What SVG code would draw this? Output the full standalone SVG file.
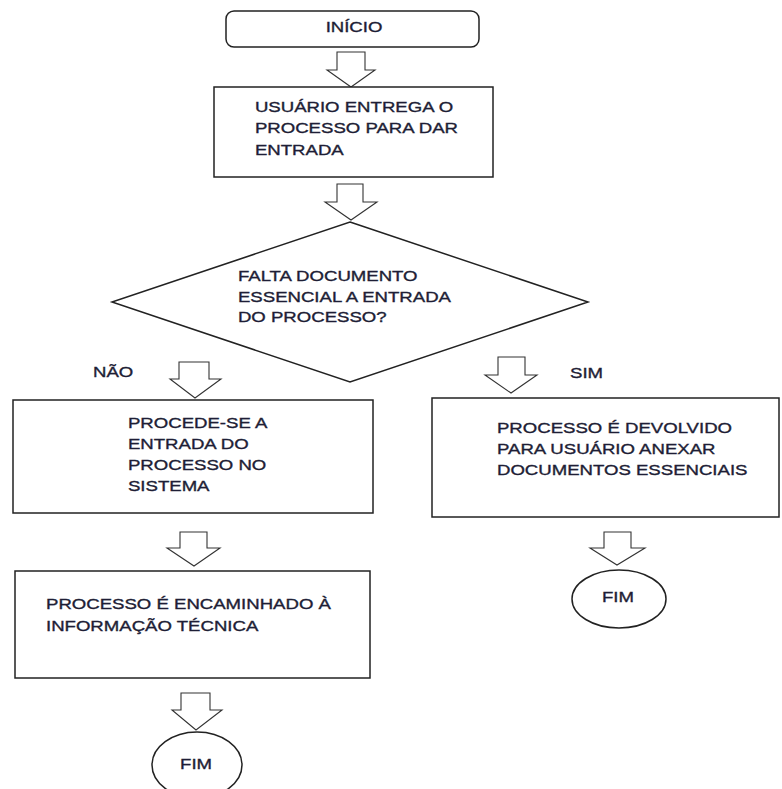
<svg xmlns="http://www.w3.org/2000/svg" width="782" height="789" viewBox="0 0 782 789">
<style>
.shape{fill:#ffffff;stroke:#222222;stroke-width:1.5}
.arrow{fill:#ffffff;stroke:#333333;stroke-width:1.1;stroke-linejoin:miter}
.t{font-family:"Liberation Sans",Arial,sans-serif;font-size:15px;fill:#1e1e36;stroke:#1e1e36;stroke-width:0.35}
.c{text-anchor:middle}
</style>
<rect x="0" y="0" width="782" height="789" fill="#ffffff"/>
<g id="connectors">
<polygon class="arrow" points="337,52 365,52 365,70 375,70 351,87 327,70 337,70"/>
<polygon class="arrow" points="337,184 363,184 363,202 377,202 351,220 325,202 337,202"/>
<polygon class="arrow" points="179,362 209,362 209,379 221,379 195,398 170,379 179,379"/>
<polygon class="arrow" points="498,357 525,357 525,375 537,375 511,393 485,375 498,375"/>
<polygon class="arrow" points="180,532 207,532 207,548 220,548 194,566 167,548 180,548"/>
<polygon class="arrow" points="181,693 210,693 210,710 222,710 196,730 172,710 181,710"/>
<polygon class="arrow" points="604,532 631,532 631,548 645,548 617,565 590,548 604,548"/>
<text class="t" transform="scale(1.24 1)" x="75" y="377">NÃO</text>
<text class="t" transform="scale(1.24 1)" x="459.7" y="378">SIM</text>
</g>
<g id="inicio">
<rect class="shape" x="226" y="11" width="253" height="36" rx="8"/>
<text class="t c" transform="scale(1.24 1)" x="285.5" y="32">INÍCIO</text>
</g>
<g id="entrega">
<rect class="shape" x="214" y="87" width="279" height="90"/>
<text class="t" transform="scale(1.24 1)" x="205.6" y="112">USUÁRIO ENTREGA O</text>
<text class="t" transform="scale(1.24 1)" x="205.6" y="133.5">PROCESSO PARA DAR</text>
<text class="t" transform="scale(1.24 1)" x="205.6" y="155">ENTRADA</text>
</g>
<g id="decisao">
<polygon class="shape" points="350,222 588,302 350,382 112,302"/>
<text class="t" transform="scale(1.24 1)" x="191.9" y="281">FALTA DOCUMENTO</text>
<text class="t" transform="scale(1.24 1)" x="191.9" y="302">ESSENCIAL A ENTRADA</text>
<text class="t" transform="scale(1.24 1)" x="191.9" y="322">DO PROCESSO?</text>
</g>
<g id="procede">
<rect class="shape" x="13" y="400" width="360" height="113"/>
<text class="t" transform="scale(1.24 1)" x="103.2" y="428">PROCEDE-SE A</text>
<text class="t" transform="scale(1.24 1)" x="103.2" y="449">ENTRADA DO</text>
<text class="t" transform="scale(1.24 1)" x="103.2" y="470">PROCESSO NO</text>
<text class="t" transform="scale(1.24 1)" x="103.2" y="491">SISTEMA</text>
</g>
<g id="devolvido">
<rect class="shape" x="432" y="398" width="347" height="119"/>
<text class="t" transform="scale(1.24 1)" x="400.8" y="433">PROCESSO É DEVOLVIDO</text>
<text class="t" transform="scale(1.24 1)" x="400.8" y="454">PARA USUÁRIO ANEXAR</text>
<text class="t" transform="scale(1.24 1)" x="400.8" y="475">DOCUMENTOS ESSENCIAIS</text>
</g>
<g id="encaminhado">
<rect class="shape" x="15" y="571" width="355" height="107"/>
<text class="t" transform="scale(1.24 1)" x="37.1" y="609">PROCESSO É ENCAMINHADO À</text>
<text class="t" transform="scale(1.24 1)" x="37.1" y="631">INFORMAÇÃO TÉCNICA</text>
</g>
<g id="fim-direita">
<ellipse class="shape" cx="619" cy="599" rx="47" ry="29"/>
<text class="t c" transform="scale(1.24 1)" x="498.4" y="602">FIM</text>
</g>
<g id="fim-esquerda">
<ellipse class="shape" cx="197" cy="765" rx="45" ry="33"/>
<text class="t c" transform="scale(1.24 1)" x="158.1" y="769">FIM</text>
</g>
</svg>
